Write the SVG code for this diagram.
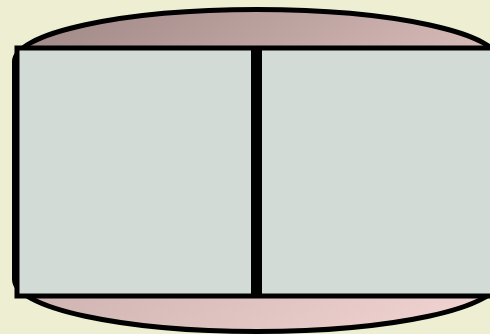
<svg xmlns="http://www.w3.org/2000/svg" width="490" height="334" viewBox="0 0 490 334">
  <defs>
    <linearGradient id="g" x1="0" y1="0" x2="1" y2="1">
      <stop offset="0" stop-color="#9c8583"/>
      <stop offset="0.5" stop-color="#d2b6b3"/>
      <stop offset="1" stop-color="#f4d7d5"/>
    </linearGradient>
    <style>
      .outline { stroke: #000; stroke-width: 5; }
      .panel { fill: #d3dbd7; stroke: #000; stroke-width: 5; }
    </style>
  </defs>
  <rect x="0" y="0" width="490" height="334" fill="#eeeed3"/>
  <g id="shell">
    <rect class="outline" x="14.5" y="9.5" width="485" height="322" rx="242.5" ry="52" fill="url(#g)"/>
  </g>
  <g id="panel">
    <rect class="panel" x="17" y="48" width="490" height="248"/>
  </g>
  <g id="connectors">
    <line x1="256.5" y1="48" x2="256.5" y2="296" stroke="#000" stroke-width="11"/>
  </g>
</svg>
